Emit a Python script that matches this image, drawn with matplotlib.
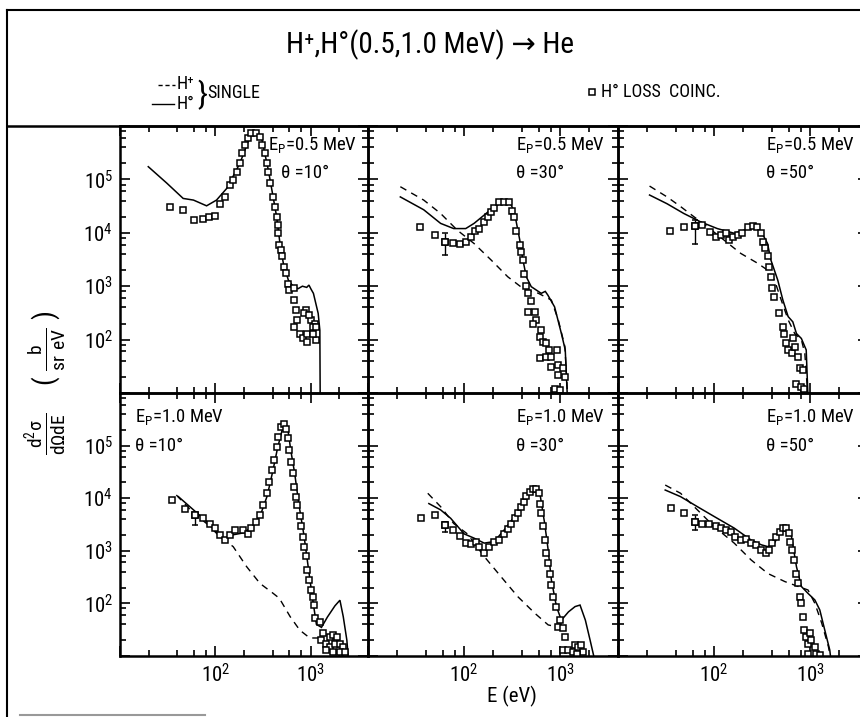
import matplotlib.pyplot as plt
import numpy as np
from matplotlib import font_manager
from matplotlib.lines import Line2D
from matplotlib.ticker import FixedLocator, LogLocator, FuncFormatter, NullFormatter

# pick the narrowest sans that is installed (the original lettering is condensed)
ttf = font_manager.fontManager.ttflist
names = {f.name for f in ttf}
narrow, stretch = 'DejaVu Sans', 'normal'
for cand in ['Liberation Sans Narrow', 'Roboto Condensed', 'Open Sans Condensed',
             'Noto Sans Condensed', 'DejaVu Sans Condensed']:
    if cand in names:
        narrow = cand
        break
else:
    for fam in ['Noto Sans', 'Open Sans', 'Roboto', 'DejaVu Sans']:
        st = [str(f.stretch) for f in ttf if f.name == fam]
        hit = [s for s in ['extra-condensed', 'condensed', 'semi-condensed'] if s in st]
        if hit:
            narrow, stretch = fam, hit[0]
            break

plt.rcParams['font.family'] = [narrow, 'DejaVu Sans']
plt.rcParams['font.stretch'] = stretch
plt.rcParams['mathtext.default'] = 'regular'

# ---- data (E in eV, d2sigma in b/(sr eV)) ----
# Ep = 0.5 MeV, theta = 10 deg
tl_solid_e = [19.8, 31, 46, 59, 81, 103, 132, 181, 231, 261, 306, 360, 440, 477, 517, 584, 659,
              740, 820, 910, 960, 1010, 1070, 1200, 1250, 1260]
tl_solid_v = [1.73e5, 8.5e4, 4.4e4, 4.1e4, 3.2e4, 4.1e4, 6.8e4, 2.0e5, 6.3e5, 7.5e5, 5.9e5, 1.5e5,
              2.0e4, 6.3e3, 2.7e3, 1.3e3, 980, 900, 1000, 950, 1050, 880, 735, 310, 150, 8]
tl_sq_e = [33.5, 46, 60, 74, 86.5, 99, 112, 126, 142, 154, 167, 181, 191, 204, 220, 239, 270, 291,
           310, 332, 345, 358, 373, 403, 419, 440, 457, 457, 468, 494, 506, 522, 555, 577, 600,
           675, 675, 700, 728, 675, 765, 825, 925, 1130, 925, 900, 860, 1010, 1100, 970, 1070,
           1130, 1070]
tl_sq_v = [3.0e4, 2.7e4, 1.74e4, 1.84e4, 1.95e4, 2.1e4, 3.5e4, 4.75e4, 7.9e4, 9.8e4, 1.4e5, 2e5,
           3.1e5, 4.4e5, 5.9e5, 7.3e5, 7.3e5, 6.3e5, 4.4e5, 3.1e5, 2e5, 1.4e5, 8.5e4, 4.75e4,
           3.1e4, 2e4, 1.4e4, 9.8e3, 5.9e3, 4.7e3, 3.6e3, 2.3e3, 1.74e3, 1.1e3, 850, 910, 550,
           360, 230, 175, 130, 105, 91, 100, 130, 360, 310, 230, 200, 290, 175, 175, 130]

# Ep = 0.5 MeV, theta = 30 deg
tm_dash_e = [21.7, 38, 57, 85, 127, 191, 285, 427, 590, 810, 955, 1120, 1200]
tm_dash_v = [7.3e4, 4.1e4, 2.3e4, 1.12e4, 6.3e3, 3.1e3, 1.5e3, 860, 740, 550, 235, 74, 8]
tm_solid_e = [21.7, 38, 57, 78, 104, 127, 162, 206, 262, 296, 320, 346, 380, 410, 444, 500, 635,
              700, 745, 875, 1030, 1130, 1190]
tm_solid_v = [4.7e4, 2.7e4, 1.5e4, 1.2e4, 1.2e4, 1.5e4, 2.15e4, 3.1e4, 3.8e4, 3.9e4, 2.9e4,
              1.74e4, 7.3e3, 3.1e3, 1.5e3, 980, 735, 800, 680, 410, 130, 64, 8]
tm_sq_e = [35, 49.6, 63, 77, 90, 104, 117, 130, 143, 162, 176, 191, 206, 232, 262, 296, 313, 330,
           346, 380, 390, 410, 420, 444, 462, 500, 462, 543, 565, 520, 635, 610, 660, 715, 770,
           610, 715, 810, 810, 920, 955, 1070, 955, 1120, 880, 990]
tm_sq_v = [1.27e4, 9.1e3, 6.8e3, 6.5e3, 6.1e3, 6.8e3, 8.5e3, 1.1e4, 1.2e4, 1.6e4, 2e4, 2.5e4,
           2.9e4, 3.7e4, 3.8e4, 3.8e4, 2.6e4, 2e4, 1.1e4, 5.9e3, 4.4e3, 3.1e3, 1.66e3, 1.0e3, 740,
           520, 330, 330, 235, 200, 150, 113, 91, 85, 64, 45, 48, 48, 31, 64, 34, 29, 22, 20, 12,
           11.5]

# Ep = 0.5 MeV, theta = 50 deg
tr_dash_e = [21.3, 32.4, 44.8, 61.7, 85, 127, 190, 283, 360, 425, 500, 590, 690, 810, 880, 950]
tr_dash_v = [7.5e4, 4.7e4, 3.1e4, 2e4, 1.3e4, 7.3e3, 4.1e3, 2.7e3, 2e3, 1.3e3, 550, 235, 130,
             100, 55, 8]
tr_solid_e = [21.3, 32.4, 48.4, 72.5, 108, 162, 206, 243, 283, 323, 360, 390, 460, 520, 590, 660,
              720, 810, 910, 950]
tr_solid_v = [5.1e4, 3.5e4, 2.3e4, 1.6e4, 1.2e4, 9.8e3, 1.12e4, 1.4e4, 1.3e4, 9.1e3, 6.3e3,
              3.1e3, 1.3e3, 550, 270, 215, 130, 105, 64, 8]
tr_sq_e = [35, 48.4, 63, 75.5, 90, 104, 117, 132, 143, 159, 177, 197, 224, 253, 283, 308, 323,
           335, 360, 375, 390, 405, 425, 470, 520, 540, 560, 590, 640, 660, 690, 745, 780, 840,
           720, 810, 870]
tr_sq_v = [1.1e4, 1.27e4, 1.34e4, 1.4e4, 1.05e4, 8.5e3, 9.1e3, 9.8e3, 7.3e3, 8.5e3, 9.1e3, 9.8e3,
           1.3e4, 1.34e4, 1.3e4, 9.8e3, 6.8e3, 5.3e3, 3.6e3, 2.3e3, 1.5e3, 910, 640, 310, 175,
           130, 85, 64, 55, 105, 74, 48, 29, 27, 15, 13, 12]

# Ep = 1.0 MeV, theta = 10 deg
bl_dash_e = [39, 59, 81, 112, 154, 213, 294, 405, 470, 610, 770, 980, 1200]
bl_dash_v = [1.15e4, 5.2e3, 3.3e3, 1.85e3, 1.2e3, 500, 240, 155, 125, 56, 31, 22, 22]
bl_solid_e = [41, 59, 81, 112, 126, 150, 200, 250, 300, 350, 400, 450, 500, 540, 580, 620, 680,
              750, 850, 950, 1050, 1150, 1300, 1500, 1800, 2030, 2200, 2400, 2500]
bl_solid_v = [1.07e4, 6e3, 3.6e3, 1.9e3, 1.6e3, 2e3, 2.2e3, 3e3, 5e3, 1.1e4, 3.2e4, 9e4, 1.9e5,
              2.5e5, 1.9e5, 8e4, 3e4, 8e3, 2e3, 450, 120, 40, 35, 55, 90, 115, 56, 20, 8]
bl_sq_e = [35.4, 48, 61, 74, 88, 99, 112, 126, 142, 160, 194, 218, 239, 270, 292, 316, 345, 367,
           389, 412, 440, 457, 487, 522, 555, 577, 600, 625, 650, 675, 700, 728, 765, 795, 830,
           860, 890, 925, 970, 1000, 1070, 1090, 1100, 1250, 1300, 1450, 1590, 1720, 1880, 1590,
           1800, 2030, 2200, 1450, 1720, 2030, 2300, 1340]
bl_sq_v = [9.2e3, 6.2e3, 4.8e3, 4.15e3, 3.3e3, 2.7e3, 2e3, 1.6e3, 2e3, 2.5e3, 2.5e3, 2.1e3, 2.7e3,
           3.6e3, 4.8e3, 7.4e3, 1.24e4, 2.05e4, 3.4e4, 5.3e4, 9.5e4, 1.48e5, 2.3e5, 2.55e5,
           2.1e5, 1.37e5, 8.3e4, 4.9e4, 2.95e4, 1.65e4, 1.07e4, 7.4e3, 4.5e3, 2.9e3, 1.85e3,
           1.2e3, 780, 430, 280, 180, 134, 93, 52, 45, 20, 17, 23, 25, 23, 15, 17, 17, 15, 13, 12,
           12, 12, 27]

# Ep = 1.0 MeV, theta = 30 deg
bm_dash_e = [41.9, 57, 78, 108, 162, 243, 363, 545, 750, 915]
bm_dash_v = [1.24e4, 6.9e3, 3.3e3, 2.1e3, 780, 320, 134, 65, 39, 36]
bm_solid_e = [43, 57, 72.5, 100, 127, 162, 206, 262, 335, 410, 480, 545, 615, 690, 750, 810, 915,
              1030, 1220, 1430, 1610, 1830, 2050, 2300]
bm_solid_v = [7.9e3, 6e3, 4.15e3, 2.1e3, 1.74e3, 1.4e3, 1.5e3, 2.5e3, 4.5e3, 8.5e3, 1.3e4,
              1.5e4, 1.24e4, 3.3e3, 1.04e3, 280, 87, 48, 69, 87, 93, 48, 20, 8]
bm_sq_e = [36, 50, 63, 77, 90, 104, 117, 133, 143, 162, 183, 206, 232, 262, 285, 308, 335, 363,
           390, 420, 445, 480, 520, 565, 600, 620, 635, 660, 690, 715, 750, 780, 810, 840, 915,
           990, 955, 1070, 1120, 1070, 1220, 1350, 1430, 1550, 1660, 1730, 1490]
bm_sq_v = [4.15e3, 4.8e3, 3.1e3, 2.5e3, 1.95e3, 1.4e3, 1.37e3, 1.5e3, 1.2e3, 890, 1.2e3, 1.5e3,
           1.6e3, 2.1e3, 2.65e3, 3.3e3, 4.15e3, 5.2e3, 6.9e3, 8.5e3, 1.1e4, 1.3e4, 1.5e4, 1.5e4,
           1.24e4, 7.9e3, 5.2e3, 2.9e3, 1.6e3, 890, 575, 370, 225, 134, 87, 48, 36, 34, 23, 13,
           13, 12, 16, 15, 16, 12, 11]

# Ep = 1.0 MeV, theta = 50 deg
br_dash_e = [31, 44.8, 67, 100, 162, 243, 363, 545, 750, 950, 1120, 1320, 1550, 1650]
br_dash_v = [1.78e4, 1.24e4, 6e3, 2.9e3, 1.4e3, 670, 370, 260, 210, 180, 100, 42, 15, 8]
br_solid_e = [31, 44.8, 67, 100, 162, 243, 310, 363, 425, 500, 565, 640, 720, 810, 950, 1120,
              1260, 1420, 1600, 1650]
br_solid_v = [1.43e4, 1.07e4, 6.9e3, 4.5e3, 2.7e3, 1.6e3, 1.3e3, 1.2e3, 1.4e3, 2.5e3, 2.9e3,
              1.85e3, 500, 210, 155, 116, 75, 31, 13, 8]
br_sq_e = [36, 48.4, 63, 75.5, 88, 104, 117, 132, 149, 167, 190, 213, 243, 273, 310, 346, 375,
           405, 440, 480, 520, 565, 600, 610, 640, 685, 720, 750, 780, 795, 840, 870, 910, 990,
           950, 1020, 1120, 950, 1160, 1280]
br_sq_v = [6.6e3, 5.3e3, 3.6e3, 3.3e3, 3.3e3, 2.9e3, 2.7e3, 2.5e3, 2.3e3, 1.85e3, 1.6e3, 1.7e3,
           1.4e3, 1.3e3, 1.04e3, 890, 1.04e3, 1.4e3, 1.85e3, 2.3e3, 2.7e3, 2.7e3, 2.15e3, 1.5e3,
           1.04e3, 670, 370, 240, 134, 100, 56, 31, 23, 27, 17, 20, 15, 11, 11, 10.5]

# one error bar per panel: E, value, low, high
err_e = [None, 63, 63, 61, 63, 63]
err_v = [None, 6.8e3, 1.34e4, 4.8e3, 3.1e3, 3.6e3]
err_lo = [None, 3.8e3, 6.2e3, 3.1e3, 2.3e3, 2.5e3]
err_hi = [None, 9.8e3, 1.74e4, 5.2e3, 3.6e3, 4.8e3]

panel_ep = ['0.5', '0.5', '0.5', '1.0', '1.0', '1.0']
panel_theta = ['10', '30', '50', '10', '30', '50']

panels = [
    (tl_solid_e, tl_solid_v, None, None, tl_sq_e, tl_sq_v),
    (tm_solid_e, tm_solid_v, tm_dash_e, tm_dash_v, tm_sq_e, tm_sq_v),
    (tr_solid_e, tr_solid_v, tr_dash_e, tr_dash_v, tr_sq_e, tr_sq_v),
    (bl_solid_e, bl_solid_v, bl_dash_e, bl_dash_v, bl_sq_e, bl_sq_v),
    (bm_solid_e, bm_solid_v, bm_dash_e, bm_dash_v, bm_sq_e, bm_sq_v),
    (br_solid_e, br_solid_v, br_dash_e, br_dash_v, br_sq_e, br_sq_v),
]

W, H = 860, 717
fig = plt.figure(figsize=(W / 100, H / 100), dpi=100)


def fx(px):
    return px / W


def fy(py):
    return 1 - py / H


def pow_label(keep):
    def fmt(v, pos):
        k = int(round(np.log10(v)))
        return r'$10^{%d}$' % k if k in keep else ''
    return fmt


col_left = [120, 368, 618]
col_w = [248, 250, 250]
row_top = [126, 393]
row_bot = [393, 656]
# where the two text lines of each panel start (axes fraction), and which alignment
lab_x = [0.955, 0.59, 0.59, 0.06, 0.59, 0.59]
th_x = [0.65, 0.59, 0.59, 0.06, 0.59, 0.59]

for i, (se, sv, de, dv, qe, qv) in enumerate(panels):
    r, c = divmod(i, 3)
    ax = fig.add_axes([fx(col_left[c]), fy(row_bot[r]), col_w[c] / W,
                       (row_bot[r] - row_top[r]) / H])
    ax.patch.set_visible(False)
    ax.set_xscale('log')
    ax.set_yscale('log')
    ax.set_xlim(10, 4000)
    ax.set_ylim(10, 1e6)

    ax.plot(se, sv, color='black', lw=1.1, solid_joinstyle='miter')
    if de is not None:
        ax.plot(de, dv, color='black', lw=1.0, ls=(0, (5, 4)))
    ax.plot(qe, qv, ls='none', marker='s', ms=5, mfc='white', mec='black', mew=1.1)
    if err_e[i] is not None:
        ax.errorbar([err_e[i]], [err_v[i]],
                    yerr=[[err_v[i] - err_lo[i]], [err_hi[i] - err_v[i]]],
                    fmt='s', ms=5, mfc='white', mec='black', mew=1.1,
                    ecolor='black', elinewidth=1.0, capsize=2)

    ax.xaxis.set_major_locator(FixedLocator([10, 100, 1000]))
    ax.xaxis.set_minor_locator(LogLocator(base=10, subs=(2, 4, 6, 8)))
    ax.yaxis.set_major_locator(FixedLocator([10, 1e2, 1e3, 1e4, 1e5, 1e6]))
    ax.yaxis.set_minor_locator(LogLocator(base=10, subs=(2, 4, 6, 8)))
    ax.xaxis.set_minor_formatter(NullFormatter())
    ax.yaxis.set_minor_formatter(NullFormatter())
    if r == 1:
        ax.xaxis.set_major_formatter(FuncFormatter(pow_label([2, 3])))
    else:
        ax.xaxis.set_major_formatter(NullFormatter())
    if c == 0:
        ax.yaxis.set_major_formatter(FuncFormatter(pow_label([2, 3, 4, 5])))
    else:
        ax.yaxis.set_major_formatter(NullFormatter())

    ax.tick_params(which='both', direction='in', top=True, right=True, width=1.2,
                   labelsize=15, pad=5)
    ax.tick_params(which='major', length=7)
    ax.tick_params(which='minor', length=4)
    for sp in ax.spines.values():
        sp.set_linewidth(1.8)

    lab = r'E$_{P}$=%s MeV' % panel_ep[i]
    th = '\u03b8 =%s\u00b0' % panel_theta[i]
    y1, y2 = (0.93, 0.825) if r == 0 else (0.91, 0.80)
    ax.text(lab_x[i], y1, lab, transform=ax.transAxes, ha='right' if i == 0 else 'left',
            va='center', fontsize=13.5)
    ax.text(th_x[i], y2, th, transform=ax.transAxes, ha='left', va='center', fontsize=13.5)

# outer frame and the rule above the panels
fig.add_artist(Line2D([fx(7), fx(7)], [fy(10), fy(717)], color='black', lw=1.5))
fig.add_artist(Line2D([fx(7), 1], [fy(10), fy(10)], color='black', lw=1.5))
fig.add_artist(Line2D([fx(7), 1], [fy(126), fy(126)], color='black', lw=1.8))
fig.add_artist(Line2D([fx(20), fx(205)], [fy(715), fy(715)], color='0.6', lw=1.5))

# title and legend
fig.text(fx(430), fy(45), 'H\u207a,H\u00b0(0.5,1.0 MeV) \u2192 He',
         ha='center', va='center', fontsize=21)
fig.add_artist(Line2D([fx(158), fx(175)], [fy(85), fy(85)], color='black', lw=1.0, ls=(0, (3, 2))))
fig.add_artist(Line2D([fx(152), fx(174)], [fy(104), fy(104)], color='black', lw=1.0))
fig.text(fx(177), fy(84), 'H\u207a', ha='left', va='center', fontsize=13)
fig.text(fx(177), fy(104), 'H\u00b0', ha='left', va='center', fontsize=13)
fig.text(fx(197), fy(95), '}', ha='left', va='center', fontsize=23)
fig.text(fx(207), fy(93), 'SINGLE', ha='left', va='center', fontsize=13)
fig.add_artist(Line2D([fx(592)], [fy(92)], ls='none', marker='s', ms=5, mfc='white',
                      mec='black', mew=1.1))
fig.text(fx(601), fy(92), 'H\u00b0 LOSS  COINC.', ha='left', va='center', fontsize=13)

# axis labels
fig.text(fx(46), fy(383), r'$\frac{d^2\sigma}{d\Omega dE}$    ( $\frac{b}{sr\ eV}$ )',
         rotation=90, ha='center', va='center', fontsize=20)
fig.text(fx(512), fy(696), 'E (eV)', ha='center', va='center', fontsize=15)

fig.savefig('out.png', dpi=100)
